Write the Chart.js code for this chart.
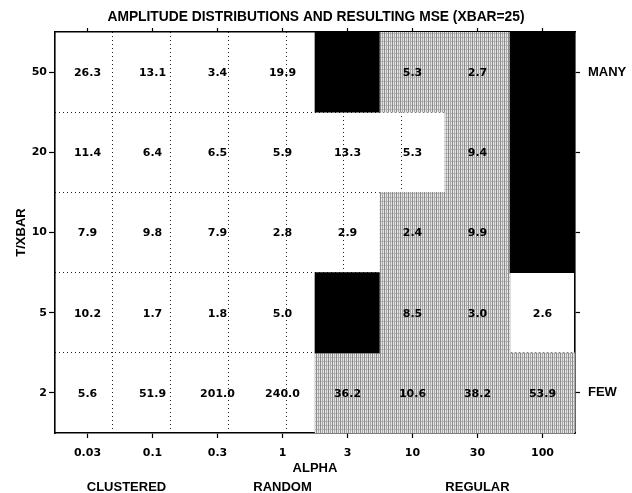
<!DOCTYPE html>
<html>
<head>
<meta charset="utf-8">
<script src="https://cdn.jsdelivr.net/npm/chart.js@4.4.1/dist/chart.umd.min.js"></script>
<style>
  html, body { margin: 0; padding: 0; background: #fff; }
  #wrap { width: 632px; height: 493px; position: relative; }
</style>
</head>
<body>
<div id="wrap"><canvas id="c"></canvas></div>
<script>
// ---- data ----
const alphaLabels = ['0.03', '0.1', '0.3', '1', '3', '10', '30', '100'];
const rowLabels = ['50', '20', '10', '5', '2'];           // T/XBAR, top to bottom
const densityLabels = ['MANY', '', '', '', 'FEW'];        // right-hand labels per row
const groupLabels = ['CLUSTERED', 'RANDOM', 'REGULAR'];
const mse50 = [26.3, 13.1, 3.4, 19.9, null, 5.3, 2.7, null];
const mse20 = [11.4, 6.4, 6.5, 5.9, 13.3, 5.3, 9.4, null];
const mse10 = [7.9, 9.8, 7.9, 2.8, 2.9, 2.4, 9.9, null];
const mse5  = [10.2, 1.7, 1.8, 5.0, null, 8.5, 3.0, 2.6];
const mse2  = [5.6, 51.9, 201.0, 240.0, 36.2, 10.6, 38.2, 53.9];
// cell shading: W = white, G = stippled gray, B = black
const shade50 = ['W', 'W', 'W', 'W', 'B', 'G', 'G', 'B'];
const shade20 = ['W', 'W', 'W', 'W', 'W', 'W', 'G', 'B'];
const shade10 = ['W', 'W', 'W', 'W', 'W', 'G', 'G', 'B'];
const shade5  = ['W', 'W', 'W', 'W', 'B', 'G', 'G', 'W'];
const shade2  = ['W', 'W', 'W', 'W', 'G', 'G', 'G', 'G'];

const mseRows = [mse50, mse20, mse10, mse5, mse2];
const shadeRows = [shade50, shade20, shade10, shade5, shade2];
const nRows = rowLabels.length;
const nCols = alphaLabels.length;

// ---- styles ----
const SANS = '"Liberation Sans", Arial, Helvetica, sans-serif';
const NUMF = '"DejaVu Sans", Verdana, sans-serif';

function makeGrayPattern() {
  const pc = document.createElement('canvas');
  pc.width = 4; pc.height = 4;
  const g = pc.getContext('2d');
  g.fillStyle = '#e6e6e6'; g.fillRect(0, 0, 4, 4);
  g.fillStyle = '#b8b8b8'; g.fillRect(0, 1, 4, 1);
  g.fillStyle = '#8c8c8c'; g.fillRect(0, 0, 1, 4);
  g.fillStyle = '#a8a8a8'; g.fillRect(2, 0, 1, 4);
  return g.createPattern(pc, 'repeat');
}
const grayPattern = makeGrayPattern();
function shadeColor(s) {
  if (s === 'B') return '#000000';
  if (s === 'G') return grayPattern;
  return 'rgba(0,0,0,0)';
}

const datasets = shadeRows.map((row, r) => ({
  label: rowLabels[r],
  data: row.map(() => [nRows - 1 - r, nRows - r]),
  backgroundColor: row.map(shadeColor),
  borderWidth: 0,
  barPercentage: 1,
  categoryPercentage: 1,
  grouped: false,
  xAxisID: 'x',
  yAxisID: 'y'
}));

const halfTicks = (s) => {
  const t = [];
  for (let i = 0; i < nRows; i++) t.push({ value: i + 0.5 });
  s.ticks = t;
};

const cellText = {
  id: 'cellText',
  afterDatasetsDraw(chart) {
    const { ctx } = chart;
    const xs = chart.scales.x, ys = chart.scales.y;
    ctx.save();
    ctx.font = 'bold 11px ' + NUMF;
    ctx.fillStyle = '#000';
    ctx.textAlign = 'center';
    ctx.textBaseline = 'middle';
    mseRows.forEach((row, r) => {
      row.forEach((v, c) => {
        if (v === null) return;
        const x = xs.getPixelForValue(c);
        const y = ys.getPixelForValue(nRows - r - 0.5);
        ctx.fillText(v.toFixed(1), x, y + 1);
      });
    });
    ctx.restore();
  }
};

const extraLabels = {
  id: 'extraLabels',
  afterDraw(chart) {
    const { ctx, chartArea } = chart;
    const xs = chart.scales.x;
    ctx.save();
    ctx.font = 'bold 13px ' + SANS;
    ctx.fillStyle = '#000';
    ctx.textAlign = 'center';
    ctx.textBaseline = 'middle';
    ctx.fillText('ALPHA', (chartArea.left + chartArea.right) / 2, chartArea.bottom + 35);
    const pos = [0.6, 3, 6];
    groupLabels.forEach((t, i) => {
      ctx.fillText(t, xs.getPixelForValue(pos[i]), chartArea.bottom + 54);
    });
    ctx.restore();
  }
};

new Chart(document.getElementById('c'), {
  type: 'bar',
  data: { labels: alphaLabels, datasets },
  options: {
    responsive: true,
    maintainAspectRatio: false,
    animation: false,
    layout: { padding: 0 },
    plugins: {
      legend: { display: false },
      tooltip: { enabled: false },
      title: {
        display: true,
        text: 'AMPLITUDE DISTRIBUTIONS AND RESULTING MSE (XBAR=25)',
        color: '#000',
        font: { family: SANS, weight: 'bold', size: 13.8, lineHeight: '16px' },
        padding: { top: 9, bottom: 0 }
      }
    },
    scales: {
      x: {
        type: 'category',
        position: 'bottom',
        offset: true,
        grid: { offset: false, drawOnChartArea: false, drawTicks: true, tickLength: 5, color: '#000', tickWidth: 1.2 },
        border: { display: true, color: '#000', width: 1.6 },
        ticks: { color: '#000', font: { family: NUMF, weight: 'bold', size: 11 }, padding: 9, maxRotation: 0, autoSkip: false },
        afterFit: (s) => { s.height = 60; }
      },
      xTop: {
        type: 'category',
        position: 'top',
        offset: true,
        grid: { offset: false, drawOnChartArea: false, drawTicks: true, tickLength: 4, color: '#000', tickWidth: 1.2 },
        border: { display: true, color: '#000', width: 1.6 },
        ticks: { display: false },
        afterFit: (s) => { s.height = 7; }
      },
      xg: {
        type: 'linear',
        position: 'bottom',
        min: 0, max: nCols,
        ticks: { display: false, stepSize: 1 },
        grid: {
          drawTicks: false, drawOnChartArea: true, lineWidth: 1,
          color: (c) => (c.tick && c.tick.value > 0 && c.tick.value < nCols) ? '#222' : 'rgba(0,0,0,0)'
        },
        border: { display: false, dash: [1, 3] },
        afterFit: (s) => { s.height = 0; }
      },
      yg: {
        type: 'linear',
        position: 'left',
        min: 0, max: nRows,
        ticks: { display: false, stepSize: 1 },
        grid: {
          drawTicks: false, drawOnChartArea: true, lineWidth: 1,
          color: (c) => (c.tick && c.tick.value > 0 && c.tick.value < nRows) ? '#222' : 'rgba(0,0,0,0)'
        },
        border: { display: false, dash: [1, 3] },
        afterFit: (s) => { s.width = 0; }
      },
      y: {
        type: 'linear',
        position: 'left',
        min: 0, max: nRows,
        afterBuildTicks: halfTicks,
        grid: { drawOnChartArea: false, drawTicks: true, tickLength: 6, color: '#000', tickWidth: 1.2 },
        border: { display: true, color: '#000', width: 1.6 },
        ticks: {
          color: '#000', padding: 2,
          font: { family: NUMF, weight: 'bold', size: 11 },
          callback: (v, i) => rowLabels[nRows - 1 - i]
        },
        title: {
          display: true, text: 'T/XBAR', color: '#000',
          font: { family: SANS, weight: 'bold', size: 13 },
          padding: { top: 14, bottom: 0 }
        },
        afterFit: (s) => { s.width = 55; }
      },
      y2: {
        type: 'linear',
        position: 'right',
        min: 0, max: nRows,
        afterBuildTicks: halfTicks,
        grid: { drawOnChartArea: false, drawTicks: true, tickLength: 5, color: '#000', tickWidth: 1.2 },
        border: { display: true, color: '#000', width: 1.6 },
        ticks: {
          color: '#000', padding: 8,
          font: { family: SANS, weight: 'bold', size: 13 },
          callback: (v, i) => densityLabels[nRows - 1 - i]
        },
        afterFit: (s) => { s.width = 57; }
      }
    }
  },
  plugins: [cellText, extraLabels]
});
</script>
</body>
</html>
